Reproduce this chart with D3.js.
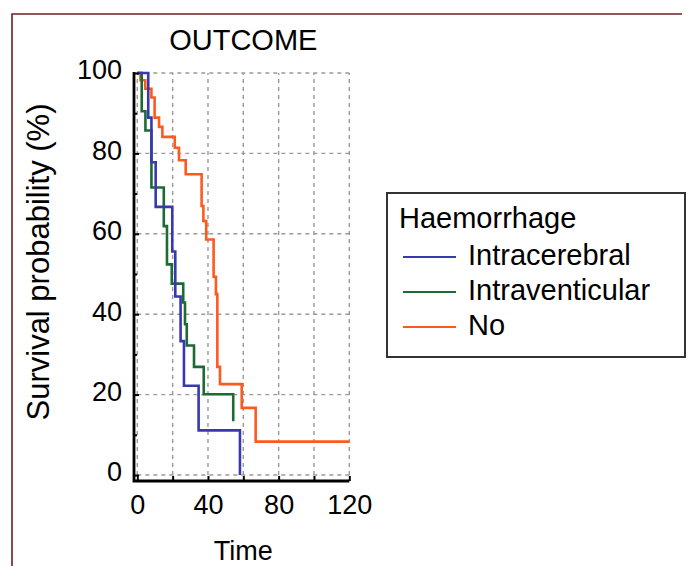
<!DOCTYPE html>
<html>
<head>
<meta charset="utf-8">
<script src="https://cdn.jsdelivr.net/npm/d3@7"></script>
<style>
    body { margin: 0; background: #fff; }
    text { font-family: "Liberation Sans", Arial, sans-serif; fill: #000; }
</style>
</head>
<body>
<script>
// Kaplan-Meier steps (time, survival %)
var groups = ["Intracerebral", "Intraventicular", "No"];
var groupColors = ["#3838b0", "#1b6b33", "#ff5a1e"];

var timeIntracerebral = [0, 6.2, 8, 10.4, 19.8, 21.5, 24.5, 26.4, 34.7, 58.1];
var survIntracerebral = [100, 88.9, 77.8, 66.7, 55.6, 44.4, 33.3, 22.2, 11.1, 0];

var timeIntraventicular = [0, 2.5, 4.6, 8, 15, 16.8, 19.5, 26, 27, 28, 32.1, 37.6, 54.3];
var survIntraventicular = [100, 90.5, 85.7, 71.5, 61.9, 52.4, 47.6, 42.9, 37.5, 32.2, 26.9, 20.1, 13.4];

var timeNo = [0, 1.8, 4.5, 8, 9.8, 12.3, 14.2, 21.2, 23.6, 27.4, 36.4, 37.4, 39, 43.2, 44.5, 45.3, 46.8, 59.1, 67, 120];
var survNo = [100, 98.2, 96.1, 93.9, 88.9, 86.6, 84.1, 81.4, 78.3, 74.8, 66.9, 63.2, 58.6, 49.3, 45.0, 26.9, 22.6, 16.7, 8.3, 8.3];

var xTicks = [0, 20, 40, 60, 80, 100, 120];
var xTickLabels = [0, 40, 80, 120];
var yTicks = [0, 20, 40, 60, 80, 100];
var yMinorTicks = [10, 30, 50, 70, 90];

var title = "OUTCOME";
var xTitle = "Time";
var yTitle = "Survival probability (%)";
var legendTitle = "Haemorrhage";

draw();

function draw() {
    var width = 690,
        height = 566;

    var svg = d3.select("body").append("svg")
        .attr("width", width)
        .attr("height", height);

    // outer frame (top + left only)
    svg.append("path")
        .attr("d", "M12," + height + "V14H682")
        .attr("fill", "none")
        .attr("stroke", "#6e1f22")
        .attr("stroke-width", 1.6);

    var x = d3.scaleLinear().domain([0, 120]).range([137.3, 349.3]);
    var y = d3.scaleLinear().domain([0, 100]).range([475, 73]);

    var axisX = 134,   // y axis sits a bit left of t=0
        axisY = 481;   // x axis sits a bit below 0 %

    // grid
    var grid = svg.append("g")
        .attr("stroke", "#9a9a9a")
        .attr("stroke-width", 1.4)
        .attr("stroke-dasharray", "4,4");

    grid.selectAll(".vgrid")
        .data(xTicks)
        .enter().append("line")
        .attr("x1", d => x(d)).attr("x2", d => x(d))
        .attr("y1", y(0)).attr("y2", y(100));

    grid.selectAll(".hgrid")
        .data(yTicks)
        .enter().append("line")
        .attr("x1", x(0)).attr("x2", x(120))
        .attr("y1", d => y(d)).attr("y2", d => y(d));

    // curves
    var series = [
        { name: groups[0], t: timeIntracerebral, s: survIntracerebral },
        { name: groups[1], t: timeIntraventicular, s: survIntraventicular },
        { name: groups[2], t: timeNo, s: survNo }
    ];

    var line = d3.line()
        .x(d => x(d[0]))
        .y(d => y(d[1]))
        .curve(d3.curveStepAfter);

    svg.selectAll(".km")
        .data(series.slice().reverse())
        .enter().append("path")
        .attr("d", d => line(d.t.map((t, i) => [t, d.s[i]])))
        .attr("fill", "none")
        .attr("stroke", d => groupColors[groups.indexOf(d.name)])
        .attr("stroke-width", 2.6);

    // y axis
    var gy = svg.append("g").attr("transform", "translate(" + axisX + ",0)");
    gy.call(d3.axisLeft(y).tickValues(yTicks).tickSizeInner(-5).tickSizeOuter(0).tickFormat(""));
    gy.append("g").call(d3.axisLeft(y).tickValues(yMinorTicks).tickSizeInner(-3).tickSizeOuter(0).tickFormat(""));
    gy.selectAll(".domain").remove();
    gy.selectAll("line").attr("stroke", "#000").attr("stroke-width", 2);

    var gyl = svg.append("g").attr("transform", "translate(" + axisX + ",0)");
    gyl.call(d3.axisLeft(y).tickValues(yTicks).tickSize(0).tickPadding(12));
    gyl.selectAll(".domain").remove();
    gyl.selectAll("text")
        .attr("dy", "0.22em")
        .style("font-size", "27px")
        .style("font-family", "'Liberation Sans', Arial, sans-serif");

    // x axis
    var gx = svg.append("g").attr("transform", "translate(0," + axisY + ")");
    gx.call(d3.axisBottom(x).tickValues(xTicks).tickSizeInner(-5).tickSizeOuter(0).tickFormat(""));
    gx.selectAll(".domain").remove();
    gx.selectAll("line").attr("stroke", "#000").attr("stroke-width", 2);

    var gxl = svg.append("g").attr("transform", "translate(0," + axisY + ")");
    gxl.call(d3.axisBottom(x).tickValues(xTickLabels).tickSize(0).tickPadding(14));
    gxl.selectAll(".domain").remove();
    gxl.selectAll("text")
        .style("font-size", "27px")
        .style("font-family", "'Liberation Sans', Arial, sans-serif");

    // axis lines
    svg.append("path")
        .attr("d", "M" + axisX + "," + (y(100) - 1) + "V" + axisY + "H" + x(120))
        .attr("fill", "none")
        .attr("stroke", "#000")
        .attr("stroke-width", 2.8);

    // titles
    svg.append("text")
        .attr("x", x(60)).attr("y", 50)
        .attr("text-anchor", "middle")
        .style("font-size", "29px")
        .text(title);

    svg.append("text")
        .attr("x", x(60)).attr("y", 560)
        .attr("text-anchor", "middle")
        .style("font-size", "27px")
        .text(xTitle);

    svg.append("text")
        .attr("transform", "translate(49,262) rotate(-90)")
        .attr("text-anchor", "middle")
        .style("font-size", "31px")
        .text(yTitle);

    // legend
    var legend = svg.append("g").attr("transform", "translate(387,193)");
    legend.append("rect")
        .attr("width", 298).attr("height", 164)
        .attr("fill", "#fff")
        .attr("stroke", "#333")
        .attr("stroke-width", 2);

    legend.append("text")
        .attr("x", 12).attr("y", 35)
        .style("font-size", "29px")
        .text(legendTitle);

    var item = legend.selectAll(".item")
        .data(groups)
        .enter().append("g")
        .attr("transform", (d, i) => "translate(0," + (72 + i * 35) + ")");

    item.append("line")
        .attr("x1", 16).attr("x2", 69)
        .attr("y1", -8).attr("y2", -8)
        .attr("stroke", (d, i) => groupColors[i])
        .attr("stroke-width", 2.2);

    item.append("text")
        .attr("x", 81).attr("y", 0)
        .style("font-size", "29px")
        .text(d => d);
}
</script>
</body>
</html>
